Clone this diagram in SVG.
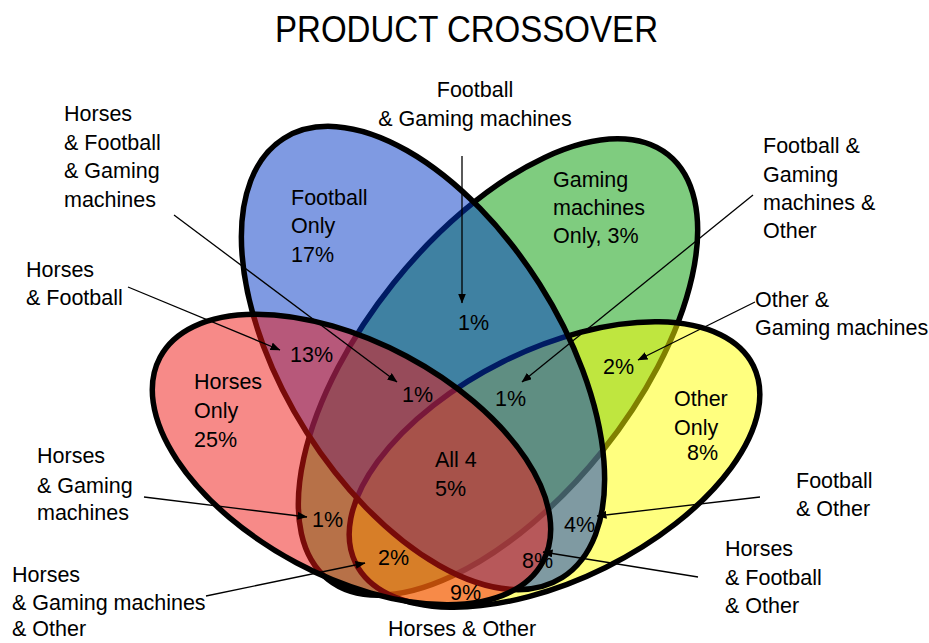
<svg xmlns="http://www.w3.org/2000/svg" width="929" height="643" viewBox="0 0 929 643">
  <defs>
    <style>
      .set{fill-opacity:0.5;stroke:#000;stroke-width:5.5}
      .lbl{font-family:"Liberation Sans",Arial,sans-serif;font-size:21.5px;fill:#000}
      .conn{stroke:#000;stroke-width:1.3;fill:none;marker-end:url(#arrow)}
    </style>
    <marker id="arrow" markerUnits="userSpaceOnUse" markerWidth="10" markerHeight="8" refX="9.5" refY="4" orient="auto">
      <path d="M0,0 L10,4 L0,8 z" fill="#000"/>
    </marker>
  </defs>

  <rect width="929" height="643" fill="#fff"/>

  <text x="466.5" y="42" font-family="'Liberation Sans',Arial,sans-serif" font-size="37" text-anchor="middle" textLength="383" lengthAdjust="spacingAndGlyphs">PRODUCT CROSSOVER</text>

  <!-- the four sets, bottom to top: gaming, other, football, horses -->
  <g id="set-gaming">
    <ellipse class="set" fill="#009900" cx="498" cy="367" rx="134" ry="272" transform="rotate(38.7 498 367)"/>
  </g>
  <g id="set-other">
    <ellipse class="set" fill="#ffff00" cx="554.5" cy="464.5" rx="222" ry="115" transform="rotate(-26.4 554.5 464.5)"/>
  </g>
  <g id="set-football">
    <ellipse class="set" fill="#0035c5" cx="423" cy="358" rx="138" ry="260" transform="rotate(-32.4 423 358)"/>
  </g>
  <g id="set-horses">
    <ellipse class="set" fill="#f01511" cx="351.5" cy="459.5" rx="217" ry="117" transform="rotate(28.1 351.5 459.5)"/>
  </g>

  <!-- region values -->
  <g id="region-football-only" class="lbl">
    <text x="291" y="205">Football</text>
    <text x="291" y="233">Only</text>
    <text x="291" y="262">17%</text>
  </g>
  <g id="region-gaming-only" class="lbl">
    <text x="553" y="187">Gaming</text>
    <text x="553" y="215">machines</text>
    <text x="553" y="243">Only, 3%</text>
  </g>
  <g id="region-horses-only" class="lbl">
    <text x="194" y="389">Horses</text>
    <text x="194" y="418">Only</text>
    <text x="194" y="447">25%</text>
  </g>
  <g id="region-other-only" class="lbl">
    <text x="674" y="406">Other</text>
    <text x="674" y="435">Only</text>
    <text x="687" y="460">8%</text>
  </g>
  <g id="region-all" class="lbl">
    <text x="435" y="467">All 4</text>
    <text x="435" y="496">5%</text>
  </g>
  <g id="region-fg" class="lbl"><text x="458" y="330">1%</text></g>
  <g id="region-hf" class="lbl"><text x="290" y="362">13%</text></g>
  <g id="region-hfg" class="lbl"><text x="402" y="402">1%</text></g>
  <g id="region-fgo" class="lbl"><text x="495" y="406">1%</text></g>
  <g id="region-go" class="lbl"><text x="603" y="374">2%</text></g>
  <g id="region-hg" class="lbl"><text x="312" y="527">1%</text></g>
  <g id="region-hgo" class="lbl"><text x="378" y="565">2%</text></g>
  <g id="region-ho" class="lbl"><text x="450" y="600">9%</text></g>
  <g id="region-hfo" class="lbl"><text x="522" y="568">8%</text></g>
  <g id="region-fo" class="lbl"><text x="564" y="532">4%</text></g>

  <!-- callout labels -->
  <g id="label-fg" class="lbl" text-anchor="middle">
    <text x="475" y="97">Football</text>
    <text x="475" y="126">&amp; Gaming machines</text>
  </g>
  <g id="label-hfg" class="lbl">
    <text x="64" y="121">Horses</text>
    <text x="64" y="150">&amp; Football</text>
    <text x="64" y="178">&amp; Gaming</text>
    <text x="64" y="207">machines</text>
  </g>
  <g id="label-hf" class="lbl">
    <text x="26" y="277">Horses</text>
    <text x="26" y="305">&amp; Football</text>
  </g>
  <g id="label-fgo" class="lbl">
    <text x="763" y="153">Football &amp;</text>
    <text x="763" y="182">Gaming</text>
    <text x="763" y="210">machines &amp;</text>
    <text x="763" y="238">Other</text>
  </g>
  <g id="label-go" class="lbl">
    <text x="755" y="307">Other &amp;</text>
    <text x="755" y="335">Gaming machines</text>
  </g>
  <g id="label-hg" class="lbl">
    <text x="37" y="463">Horses</text>
    <text x="37" y="493">&amp; Gaming</text>
    <text x="37" y="520">machines</text>
  </g>
  <g id="label-hgo" class="lbl">
    <text x="12" y="582">Horses</text>
    <text x="12" y="610">&amp; Gaming machines</text>
    <text x="12" y="636">&amp; Other</text>
  </g>
  <g id="label-fo" class="lbl">
    <text x="796" y="488">Football</text>
    <text x="796" y="516">&amp; Other</text>
  </g>
  <g id="label-hfo" class="lbl">
    <text x="725" y="556">Horses</text>
    <text x="725" y="585">&amp; Football</text>
    <text x="725" y="613">&amp; Other</text>
  </g>
  <g id="label-ho" class="lbl">
    <text x="388" y="636">Horses &amp; Other</text>
  </g>

  <!-- leader lines -->
  <g id="connectors" class="conn">
    <line x1="462" y1="156" x2="462" y2="303"/>
    <line x1="174" y1="215" x2="397" y2="382"/>
    <line x1="128" y1="287" x2="280" y2="350"/>
    <line x1="753" y1="195" x2="522" y2="382"/>
    <line x1="755" y1="302" x2="638" y2="360"/>
    <line x1="144" y1="497" x2="307" y2="517"/>
    <line x1="206" y1="596" x2="365" y2="563"/>
    <line x1="760" y1="497" x2="597" y2="516"/>
    <line x1="698" y1="577" x2="543" y2="552"/>
  </g>
</svg>
